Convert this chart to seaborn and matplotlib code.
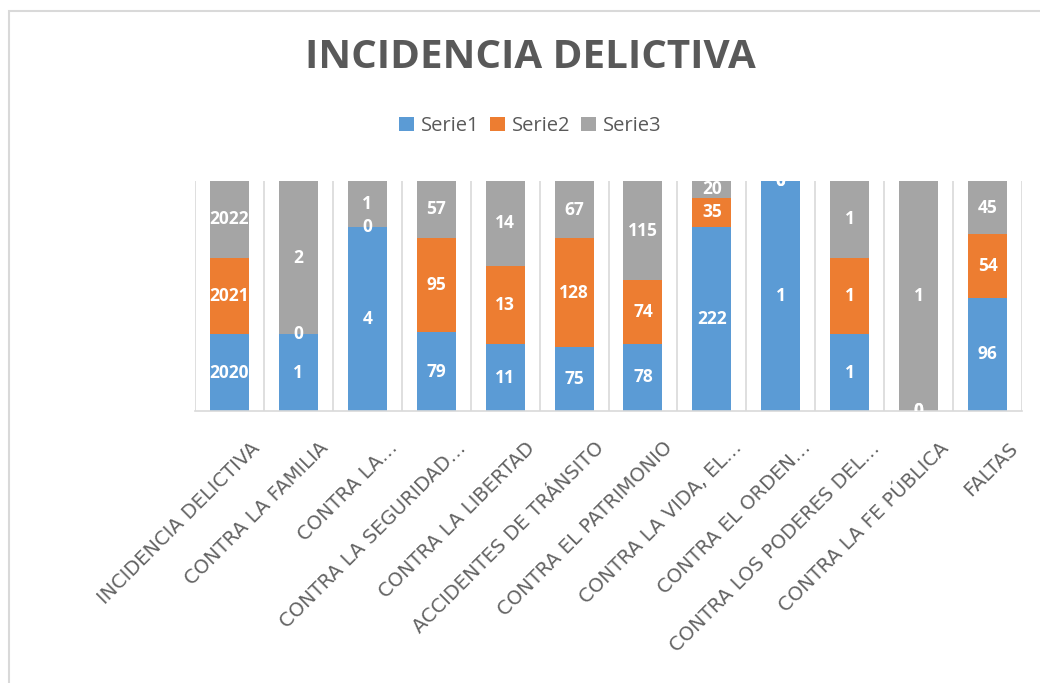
import numpy as np
import pandas as pd
import seaborn as sns
import matplotlib.pyplot as plt
import matplotlib.transforms as mtransforms
from matplotlib.patches import Rectangle, Patch

# --- Data (100% stacked columns) ---
categorias = [
    "INCIDENCIA DELICTIVA", "CONTRA LA FAMILIA", "CONTRA LA…",
    "CONTRA LA SEGURIDAD…", "CONTRA LA LIBERTAD", "ACCIDENTES DE TRÁNSITO",
    "CONTRA EL PATRIMONIO", "CONTRA LA VIDA, EL…", "CONTRA EL ORDEN…",
    "CONTRA LOS PODERES DEL…", "CONTRA LA FE PÚBLICA", "FALTAS",
]
serie1 = [2020, 1, 4, 79, 11, 75, 78, 222, 1, 1, 0, 96]
serie2 = [2021, 0, 0, 95, 13, 128, 74, 35, 0, 1, 0, 54]
serie3 = [2022, 2, 1, 57, 14, 67, 115, 20, 0, 1, 1, 45]
series = ["Serie1", "Serie2", "Serie3"]
colores = ["#5B9BD5", "#ED7D31", "#A5A5A5"]

df = pd.DataFrame({"cat": categorias, "Serie1": serie1, "Serie2": serie2, "Serie3": serie3})
total = df[series].sum(axis=1)
share = df[series].div(total, axis=0)
cum = share.cumsum(axis=1)

sns.set_style("white")
plt.rcParams['font.family'] = ['Open Sans', 'DejaVu Sans']

fig = plt.figure(figsize=(10.4, 6.83), dpi=100)
ax = fig.add_axes([195 / 1040, 1 - 411 / 683, 827 / 1040, 230 / 683])

# draw tallest cumulative layer first so the lower ones sit on top
for s, c in zip(reversed(series), reversed(colores)):
    sns.barplot(x=df["cat"], y=cum[s], color=c, width=0.565, ax=ax,
                saturation=1, edgecolor="none", zorder=2)

# value labels at the middle of each segment
for i in range(len(df)):
    base = 0.0
    for s in series:
        h = share.loc[i, s]
        ax.text(i, base + h / 2, str(df.loc[i, s]), ha="center", va="center",
                color="white", fontsize=12.5, fontweight="bold", zorder=5,
                clip_on=True)
        base += h

ax.set_xlim(-0.5, len(df) - 0.5)
ax.set_ylim(0, 1)
ax.set_yticks([])
ax.set_xlabel("")
ax.set_ylabel("")
for sp in ["top", "left", "right"]:
    ax.spines[sp].set_visible(False)
ax.spines["bottom"].set_color("#D9D9D9")
ax.spines["bottom"].set_linewidth(1.2)
for b in np.arange(-0.5, len(df), 1.0):
    ax.axvline(b, color="#D9D9D9", lw=1.2, zorder=1)

ax.set_xticks(range(len(df)))
ax.set_xticklabels(categorias, rotation=45, ha="right", rotation_mode="anchor",
                   fontsize=14, color="#636363")
ax.tick_params(axis="x", length=0, pad=0)
offset = mtransforms.ScaledTranslation(0.27, -0.34, fig.dpi_scale_trans)
for lab in ax.get_xticklabels():
    lab.set_fontfamily("DejaVu Sans")
    lab.set_transform(lab.get_transform() + offset)
    lab.set_va("center")

# title and legend
fig.text(0.51, 1 - 57 / 683, "INCIDENCIA DELICTIVA", ha="center", va="center",
         fontsize=29, fontweight="bold", color="#595959")
handles = [Patch(facecolor=c, edgecolor="none") for c in colores]
fig.legend(handles, series, loc="center", bbox_to_anchor=(0.51, 1 - 126 / 683),
           ncol=3, frameon=False, fontsize=14.5, handlelength=0.75, handleheight=0.75,
           handletextpad=0.35, columnspacing=0.5, labelcolor="#595959")

# chart outline (cropped at right and bottom)
fig.patches.append(Rectangle((9 / 1040, -0.1), 1.2, 1 - 11 / 683 + 0.1,
                             transform=fig.transFigure, fill=False,
                             edgecolor="#D9D9D9", lw=1.5))

fig.savefig("out.png", dpi=100)
